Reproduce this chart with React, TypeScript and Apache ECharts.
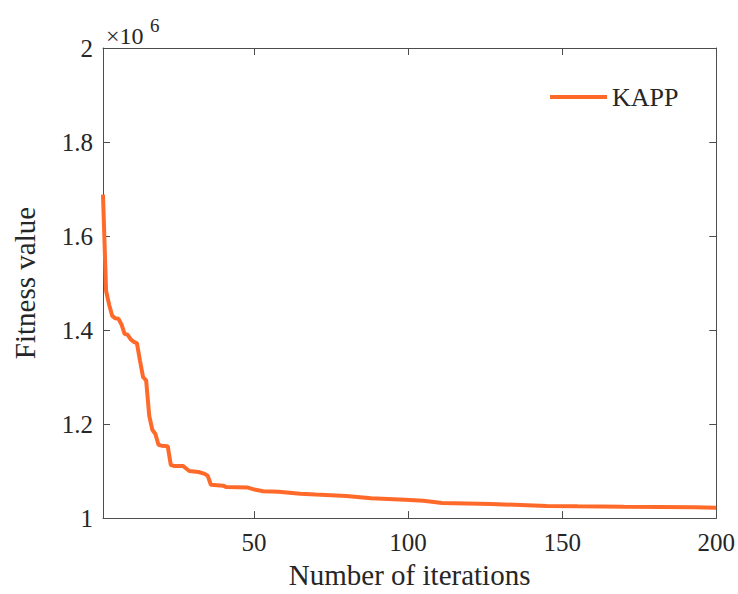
import React, { useEffect, useRef } from "react";
import * as echarts from "echarts";

const seriesName = "KAPP";
const iterations = [1, 2, 3, 4, 5, 6, 7, 8, 9, 10, 11, 12, 13, 14, 15, 16, 17, 18, 19, 20, 22, 23, 24, 27, 29, 32, 34, 35, 36, 40, 41, 48, 50, 53, 58, 65, 70, 80, 88, 99, 105, 111, 127, 145, 155, 170, 193, 200];
const fitness = [1688000, 1483000, 1454000, 1430000, 1425000, 1424000, 1412000, 1392000, 1390000, 1380000, 1375000, 1372000, 1335000, 1300000, 1293000, 1218000, 1188000, 1179000, 1156000, 1154000, 1153000, 1113000, 1111000, 1111000, 1100000, 1098000, 1094000, 1090000, 1071000, 1069000, 1066000, 1065000, 1061000, 1057000, 1056000, 1052000, 1050000, 1047000, 1042000, 1039000, 1037000, 1032000, 1030000, 1026000, 1025000, 1024000, 1023000, 1022000];
const xTicks = [50, 100, 150, 200];
const yTicks = [1, 1.2, 1.4, 1.6, 1.8, 2];

const FONT = "Liberation Serif";
const AXIS_COLOR = "#4d4d4d";
const TEXT_COLOR = "#262626";
const LINE_COLOR = "#ff6a2b";

export default function App() {
  const ref = useRef<HTMLDivElement>(null);
  useEffect(() => {
    if (!ref.current) return;
    const chart = echarts.init(ref.current, undefined, { renderer: "svg" });
    const data = iterations.map((it, i) => [it, fitness[i]]);
    const axisLineCommon = { show: true, lineStyle: { color: AXIS_COLOR, width: 1 } };
    chart.setOption({
      animation: false,
      backgroundColor: "#ffffff",
      grid: { left: 103, right: 20, top: 48, bottom: 72, containLabel: false },
      title: [
        {
          text: "×10",
          left: 106,
          top: 24,
          padding: 0,
          textStyle: { fontFamily: FONT, fontSize: 24, fontWeight: "normal", color: TEXT_COLOR },
        },
        {
          text: "6",
          left: 150,
          top: 16,
          padding: 0,
          textStyle: { fontFamily: FONT, fontSize: 19, fontWeight: "normal", color: TEXT_COLOR },
        },
      ],
      legend: {
        show: true,
        left: 550,
        top: 84,
        padding: 0,
        itemWidth: 57,
        itemHeight: 4,
        icon: "rect",
        data: [seriesName],
        textStyle: { fontFamily: FONT, fontSize: 26, color: TEXT_COLOR },
      },
      xAxis: [
        {
          type: "value",
          min: 1,
          max: 200,
          position: "bottom",
          name: "Number of iterations",
          nameLocation: "middle",
          nameGap: 41,
          nameTextStyle: { fontFamily: FONT, fontSize: 29, color: TEXT_COLOR },
          axisLine: axisLineCommon,
          axisTick: { show: true, inside: true, length: 7, customValues: xTicks, lineStyle: { color: AXIS_COLOR } },
          axisLabel: { show: true, customValues: xTicks, margin: 12, fontFamily: FONT, fontSize: 25, color: TEXT_COLOR },
          splitLine: { show: false },
        },
        {
          type: "value",
          min: 1,
          max: 200,
          position: "top",
          axisLine: axisLineCommon,
          axisTick: { show: true, inside: true, length: 7, customValues: xTicks, lineStyle: { color: AXIS_COLOR } },
          axisLabel: { show: false },
          splitLine: { show: false },
        },
      ],
      yAxis: [
        {
          type: "value",
          min: 1000000,
          max: 2000000,
          interval: 200000,
          position: "left",
          name: "Fitness value",
          nameLocation: "middle",
          nameGap: 64,
          nameTextStyle: { fontFamily: FONT, fontSize: 29, color: TEXT_COLOR },
          axisLine: axisLineCommon,
          axisTick: { show: true, inside: true, length: 7, lineStyle: { color: AXIS_COLOR } },
          axisLabel: {
            show: true,
            margin: 10,
            fontFamily: FONT,
            fontSize: 25,
            color: TEXT_COLOR,
            formatter: (v: number) => {
              const m = Math.round((v / 1000000) * 10) / 10;
              const found = yTicks.find((t) => Math.abs(t - m) < 1e-6);
              return found !== undefined ? String(found) : String(m);
            },
          },
          splitLine: { show: false },
        },
        {
          type: "value",
          min: 1000000,
          max: 2000000,
          interval: 200000,
          position: "right",
          axisLine: axisLineCommon,
          axisTick: { show: true, inside: true, length: 7, lineStyle: { color: AXIS_COLOR } },
          axisLabel: { show: false },
          splitLine: { show: false },
        },
      ],
      series: [
        {
          name: seriesName,
          type: "line",
          xAxisIndex: 0,
          yAxisIndex: 0,
          data,
          showSymbol: false,
          symbol: "none",
          lineStyle: { color: LINE_COLOR, width: 4 },
          itemStyle: { color: LINE_COLOR },
        },
      ],
    });
    return () => chart.dispose();
  }, []);
  return (
    <div
      ref={ref}
      style={{ position: "fixed", left: 0, top: 0, width: 738, height: 594 }}
    />
  );
}
